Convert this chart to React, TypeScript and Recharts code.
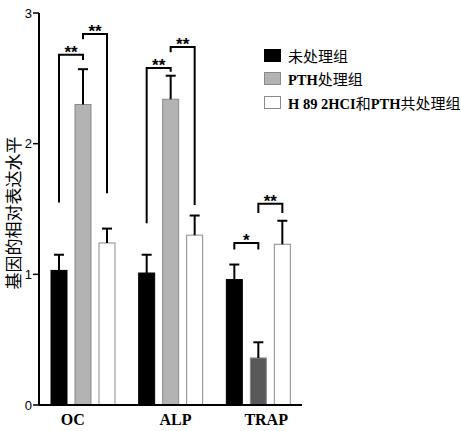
import { BarChart, Bar, XAxis, YAxis, Legend, Cell } from 'recharts';

const categories = ['OC', 'ALP', 'TRAP'];
const seriesNames = ['未处理组', 'PTH处理组', 'H 89 2HCI和PTH共处理组'];
const untreated = [1.03, 1.01, 0.96];
const untreatedErr = [0.12, 0.14, 0.115];
const pth = [2.3, 2.34, 0.36];
const pthErr = [0.27, 0.18, 0.12];
const combo = [1.24, 1.3, 1.23];
const comboErr = [0.11, 0.15, 0.18];

// brackets 未处理组 vs PTH处理组
const sigA = ['**', '**', '*'];
const sigALevel = [2.68, 2.58, 1.24];
const sigALeft = [1.55, 1.39, 1.19];
const sigARight = [2.64, 2.55, 1.19];
// brackets PTH处理组 vs 共处理组
const sigB = ['**', '**', '**'];
const sigBLevel = [2.84, 2.74, 1.54];
const sigBLeft = [2.8, 2.7, 1.47];
const sigBRight = [1.62, 1.53, 1.47];

const data = categories.map((name, i) => ({
  name,
  untreated: untreated[i],
  pth: pth[i],
  combo: combo[i],
}));

const BAR_SIZE = 16;
const BAR_GAP = 8;
const LATIN = "'Liberation Sans', Arial, sans-serif";
const SERIF = "'Liberation Serif', 'Noto Sans CJK SC', serif";

type Sig = { marks: string[]; level: number[]; left: number[]; right: number[] };

function makeShape(key: string, errs: number[], stroke: string, sig?: Sig) {
  return (props: any) => {
    const { x, y, width, height, index, fill } = props;
    const val = props.payload[key];
    const base = y + height;
    const k = height / val; // px per unit
    const yv = (v: number) => base - v * k;
    const cx = x + width / 2;
    const top = yv(val + errs[index]);
    let bracket = null;
    if (sig) {
      const nx = cx + width + BAR_GAP;
      const ly = yv(sig.level[index]);
      bracket = (
        <g>
          <path
            d={`M${cx},${yv(sig.left[index])} L${cx},${ly} L${nx},${ly} L${nx},${yv(sig.right[index])}`}
            fill="none"
            stroke="#000"
            strokeWidth={2}
          />
          <text
            x={(cx + nx) / 2}
            y={ly + 3}
            textAnchor="middle"
            fontSize={17}
            fontWeight="bold"
            fontFamily={LATIN}
            fill="#000"
          >
            {sig.marks[index]}
          </text>
        </g>
      );
    }
    return (
      <g>
        <rect x={x} y={y} width={width} height={height} fill={fill} stroke={stroke} strokeWidth={1} />
        <line x1={cx} y1={y} x2={cx} y2={top} stroke="#000" strokeWidth={2} />
        <line x1={cx - 5} y1={top} x2={cx + 5} y2={top} stroke="#000" strokeWidth={2} />
        {bracket}
      </g>
    );
  };
}

const tickNudge: Record<string, number> = { OC: -10, ALP: 5, TRAP: 8 };

const XTick = ({ x, y, payload }: any) => (
  <text
    x={x + (tickNudge[payload.value] || 0)}
    y={y + 12}
    textAnchor="middle"
    fontSize={16}
    fontWeight="bold"
    fontFamily={SERIF}
    fill="#000"
  >
    {payload.value}
  </text>
);

const legendBorder: Record<string, string> = { '#000000': '#000', '#b3b3b3': '#8a8a8a', '#ffffff': '#8a8a8a' };

// latin runs bold serif, chinese runs regular
const LegendText = ({ text }: { text: string }) => (
  <span style={{ whiteSpace: 'nowrap' }}>
    {text.split(/([\u4e00-\u9fff]+)/).filter(Boolean).map((run, i) =>
      /[\u4e00-\u9fff]/.test(run) ? (
        <span key={i} style={{ fontFamily: "'Noto Sans CJK SC', sans-serif", fontSize: 15, fontWeight: 'normal' }}>
          {run}
        </span>
      ) : (
        <span key={i} style={{ fontFamily: "'Liberation Serif', serif", fontSize: 14.5, fontWeight: 'bold' }}>
          {run}
        </span>
      )
    )}
  </span>
);

const renderLegend = ({ payload }: any) => {
  const items = [...(payload || [])].sort(
    (a: any, b: any) => seriesNames.indexOf(a.value) - seriesNames.indexOf(b.value)
  );
  return (
    <div style={{ color: '#000' }}>
      {items.map((p: any) => (
        <div key={p.value} style={{ display: 'flex', alignItems: 'center', height: 23.3 }}>
          <span
            style={{
              width: 17,
              height: 13,
              background: p.color,
              border: `1px solid ${legendBorder[p.color] || '#000'}`,
              boxSizing: 'border-box',
              marginRight: 7,
              flexShrink: 0,
            }}
          />
          <LegendText text={p.value} />
        </div>
      ))}
    </div>
  );
};

export default function App() {
  return (
    <div style={{ position: 'absolute', left: 0, top: 0, background: '#fff' }}>
      <BarChart
        width={461}
        height={431}
        data={data}
        margin={{ top: 13, right: 159, left: 0, bottom: 0 }}
        barSize={BAR_SIZE}
        barGap={BAR_GAP}
      >
        <XAxis
          dataKey="name"
          height={26}
          axisLine={{ stroke: '#000', strokeWidth: 2 }}
          tickLine={false}
          tick={<XTick />}
          interval={0}
        />
        <YAxis
          width={39}
          domain={[0, 3]}
          ticks={[0, 1, 2, 3]}
          axisLine={{ stroke: '#000', strokeWidth: 2 }}
          tickLine={{ stroke: '#000', strokeWidth: 1.5 }}
          tickSize={6}
          tickMargin={1}
          tick={{ fill: '#000', fontSize: 13, fontFamily: LATIN }}
          label={{
            content: ({ viewBox }: any) => (
              <text
                transform={`translate(${viewBox.x + 12.5},${viewBox.y + viewBox.height / 2 + 4}) rotate(-90)`}
                textAnchor="middle"
                dominantBaseline="central"
                fontSize={17}
                fontFamily="'Noto Sans CJK SC', sans-serif"
                fill="#000"
              >
                基因的相对表达水平
              </text>
            ),
          }}
        />
        <Legend
          layout="horizontal"
          verticalAlign="middle"
          align="center"
          wrapperStyle={{ top: 44, left: 264, width: 197 }}
          content={renderLegend}
        />
        <Bar
          dataKey="untreated"
          name={seriesNames[0]}
          fill="#000000"
          isAnimationActive={false}
          shape={makeShape('untreated', untreatedErr, '#000', {
            marks: sigA,
            level: sigALevel,
            left: sigALeft,
            right: sigARight,
          })}
        />
        <Bar
          dataKey="pth"
          name={seriesNames[1]}
          fill="#b3b3b3"
          isAnimationActive={false}
          shape={makeShape('pth', pthErr, '#8a8a8a', {
            marks: sigB,
            level: sigBLevel,
            left: sigBLeft,
            right: sigBRight,
          })}
        >
          {data.map((d, i) => (
            <Cell key={d.name} fill={i === 2 ? '#595959' : '#b3b3b3'} />
          ))}
        </Bar>
        <Bar
          dataKey="combo"
          name={seriesNames[2]}
          fill="#ffffff"
          isAnimationActive={false}
          shape={makeShape('combo', comboErr, '#8a8a8a')}
        />
      </BarChart>
    </div>
  );
}
